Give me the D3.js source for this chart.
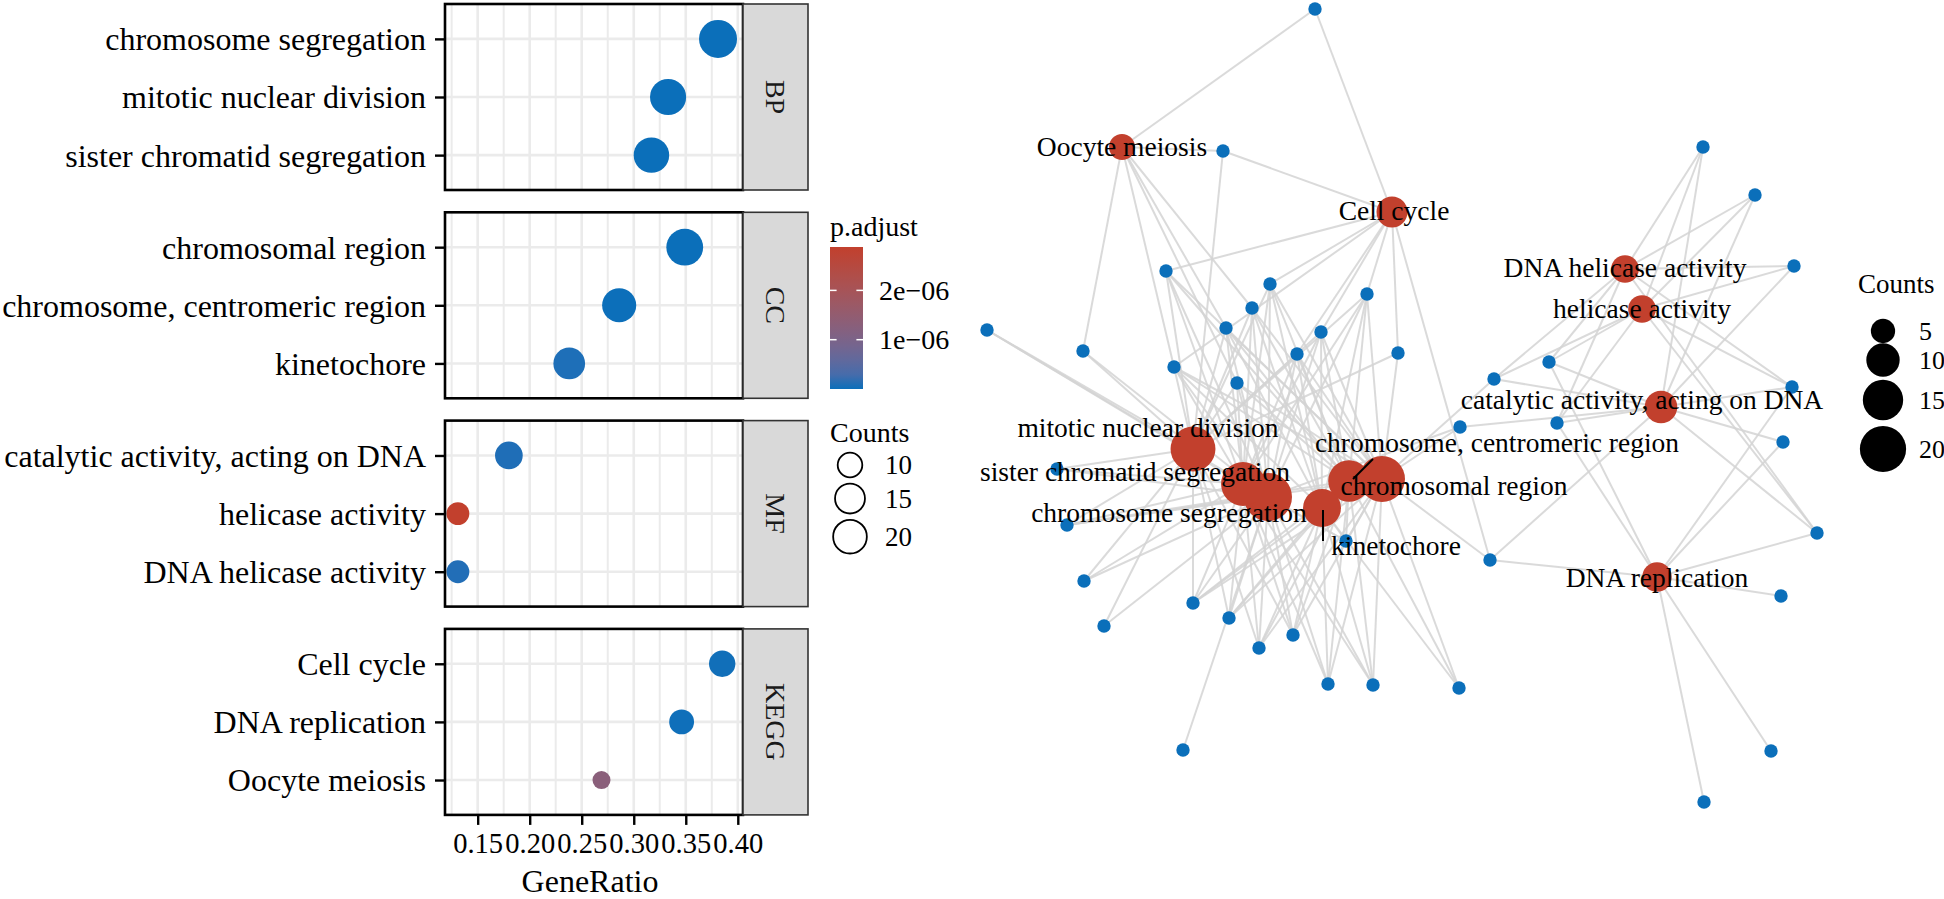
<!DOCTYPE html>
<html>
<head>
<meta charset="utf-8">
<script src="https://cdn.jsdelivr.net/npm/d3@7"></script>
<style>
  body { margin: 0; background: #fff; }
  svg { display: block; }
  text { font-family: "Liberation Serif", "Times New Roman", serif; }
</style>
</head>
<body>
<svg id="chart" width="1944" height="899" font-family="Liberation Serif, Times New Roman, serif"></svg>
<script>
// ---- enrichment terms (dot plot) ----
var termNames = ['chromosome segregation', 'mitotic nuclear division', 'sister chromatid segregation',
  'chromosomal region', 'chromosome, centromeric region', 'kinetochore',
  'catalytic activity, acting on DNA', 'helicase activity', 'DNA helicase activity',
  'Cell cycle', 'DNA replication', 'Oocyte meiosis']
var termGroup = ['BP', 'BP', 'BP', 'CC', 'CC', 'CC', 'MF', 'MF', 'MF', 'KEGG', 'KEGG', 'KEGG']
var geneRatio = [0.381, 0.333, 0.317, 0.349, 0.286, 0.238, 0.180, 0.131, 0.131, 0.385, 0.346, 0.269]
var termCount = [24, 21, 20, 22, 18, 15, 11, 8, 8, 10, 9, 7]
var pAdjust = [2.1e-12, 6.5e-10, 1.4e-10, 3.2e-11, 8.9e-10, 4.7e-8, 5.2e-8, 2.88e-6, 6.3e-8, 1.1e-8, 7.4e-9, 1.3e-6]

var facets = ['BP', 'CC', 'MF', 'KEGG']
var xTicks = [0.15, 0.20, 0.25, 0.30, 0.35, 0.40]
var xLimits = [0.1186, 0.405]
var pTicks = [1e-6, 2e-6]
var pTickLabels = ['1e\u221206', '2e\u221206']
var countBreaks = [10, 15, 20]
var netCountBreaks = [5, 10, 15, 20]

// ---- network (cnetplot) layout ----
// term nodes, same order as termNames
var termNetX = [1268, 1193, 1243, 1382, 1349, 1322, 1661, 1642, 1625, 1392, 1657, 1122]
var termNetY = [497, 449, 484, 479, 481, 508, 407, 309, 269, 212, 577, 147]
var labelDx = [-99, -45, -108, 72, 148, 74, -19, 0, 0, 2, 0, 0]
var labelDy = [25, -12, -3, 16, -29, 47, 2, 9, 8, 8, 10, 9]
// gene nodes
var geneNetX = [1315, 1223, 1166, 1270, 1367, 1252, 987, 1226, 1321, 1083, 1297, 1398, 1174, 1237,
  1460, 1703, 1755, 1794, 1549, 1494, 1792, 1557, 1057, 1067, 1346, 1084, 1193, 1104, 1229, 1293,
  1259, 1328, 1373, 1459, 1183, 1783, 1817, 1490, 1781, 1771, 1704]
var geneNetY = [9, 151, 271, 284, 294, 308, 330, 328, 332, 351, 354, 353, 367, 383,
  427, 147, 195, 266, 362, 379, 387, 423, 469, 525, 541, 581, 603, 626, 618, 635,
  648, 684, 685, 688, 750, 442, 533, 560, 596, 751, 802]
// terms each gene belongs to (indices into termNames)
var geneTerms = [
  [9, 11], [9, 11, 1], [9, 0, 1, 2, 3, 4], [9, 0, 1, 2, 3, 4, 5], [9, 0, 1, 2, 3, 4, 5],
  [11, 0, 1, 2, 3, 4, 5], [0, 1, 2], [11, 0, 1, 2, 3, 4, 5], [9, 0, 1, 2, 3, 4, 5], [11, 0, 1],
  [9, 0, 1, 2, 3, 4, 5], [9, 1, 3], [9, 11, 0, 1, 2, 3, 4, 5], [11, 0, 1, 2, 3, 4],
  [6, 3, 0], [8, 7, 6], [8, 7, 6], [8, 7, 6], [8, 7, 6, 10], [8, 7, 6, 3], [8, 7, 6, 10], [8, 7, 6, 10],
  [0, 1, 2], [0, 1, 2, 3, 4], [0, 2, 3, 4, 5], [0, 1, 2], [0, 1, 2, 3, 4, 5], [0, 1],
  [0, 1, 2, 3, 4, 5], [0, 1, 2, 3, 4, 5], [0, 1, 2, 3, 4, 5], [0, 2, 3, 4, 5], [0, 2, 3, 4, 5],
  [3, 4, 5], [0], [6, 10], [6, 10, 7, 8], [9, 10, 3, 6], [10], [10], [10]
]

var FONT = 'Liberation Serif, Times New Roman, serif'
var svg = d3.select('#chart')

var lowCol = '#0B6FBA'
var highCol = '#C2402D'
var colorScale = d3.scaleLinear()
  .domain(d3.extent(pAdjust))
  .range([lowCol, highCol])
  .interpolate(d3.interpolateLab)

// ================= dot plot =================
var panelLeft = 445, panelRight = 743, stripW = 65
var panelH = 186, panelStep = 208.3, panelTop0 = 4

var x = d3.scaleLinear().domain(xLimits).range([panelLeft, panelRight])
var sizeNorm = d3.scaleLinear().domain(d3.extent(termCount)).range([0, 1])
var diam = d3.scaleSqrt().domain([0, 1]).range([18, 38])
var dotR = function(n) { return diam(sizeNorm(n)) / 2 }

var minorTicks = d3.range(xTicks.length + 1).map(function(i) { return xTicks[0] - 0.025 + i * 0.05 })
  .filter(function(v) { return v > xLimits[0] && v < xLimits[1] })

facets.forEach(function(f, fi) {
  var top = panelTop0 + fi * panelStep
  var rows = termNames.filter(function(t, i) { return termGroup[i] === f })
  var y = d3.scalePoint().domain(rows).range([top, top + panelH]).padding(0.6)
  var g = svg.append('g')

  g.append('rect').attr('x', panelLeft).attr('y', top)
    .attr('width', panelRight - panelLeft).attr('height', panelH).attr('fill', '#fff')

  g.selectAll('.minor').data(minorTicks).enter().append('line')
    .attr('x1', function(d) { return x(d) }).attr('x2', function(d) { return x(d) })
    .attr('y1', top).attr('y2', top + panelH)
    .attr('stroke', '#EBEBEB').attr('stroke-width', 2)
  g.selectAll('.major').data(xTicks).enter().append('line')
    .attr('x1', function(d) { return x(d) }).attr('x2', function(d) { return x(d) })
    .attr('y1', top).attr('y2', top + panelH)
    .attr('stroke', '#EBEBEB').attr('stroke-width', 2.6)
  g.selectAll('.hgrid').data(rows).enter().append('line')
    .attr('x1', panelLeft).attr('x2', panelRight)
    .attr('y1', function(d) { return y(d) }).attr('y2', function(d) { return y(d) })
    .attr('stroke', '#EBEBEB').attr('stroke-width', 2.6)

  // dots
  termNames.forEach(function(t, i) {
    if (termGroup[i] !== f) return
    g.append('circle')
      .attr('cx', x(geneRatio[i])).attr('cy', y(t))
      .attr('r', dotR(termCount[i]))
      .attr('fill', colorScale(pAdjust[i]))
  })

  g.append('rect').attr('x', panelLeft).attr('y', top)
    .attr('width', panelRight - panelLeft).attr('height', panelH)
    .attr('fill', 'none').attr('stroke', '#000').attr('stroke-width', 2.6)

  // y axis
  var yAxis = g.append('g').attr('transform', 'translate(' + panelLeft + ',0)')
    .call(d3.axisLeft(y).tickSize(10).tickPadding(9))
  yAxis.attr('font-family', FONT)
  yAxis.select('.domain').remove()
  yAxis.selectAll('line').attr('stroke', '#000').attr('stroke-width', 2.4)
  yAxis.selectAll('text').attr('font-size', 32).attr('fill', '#000')
    .attr('font-family', FONT).attr('dy', '0.34em')

  // strip
  g.append('rect').attr('x', panelRight).attr('y', top)
    .attr('width', stripW).attr('height', panelH)
    .attr('fill', '#D9D9D9').attr('stroke', '#333').attr('stroke-width', 1.6)
  g.append('text')
    .attr('transform', 'translate(' + (panelRight + stripW / 2) + ',' + (top + panelH / 2) + ') rotate(90)')
    .attr('text-anchor', 'middle').attr('dy', '0.35em').attr('font-family', FONT)
    .attr('font-size', 28).attr('fill', '#1A1A1A').text(f)
})

// x axis under the last panel
var lastBottom = panelTop0 + 3 * panelStep + panelH
var xAxis = svg.append('g').attr('transform', 'translate(0,' + lastBottom + ')')
  .call(d3.axisBottom(x).tickValues(xTicks).tickFormat(d3.format('.2f')).tickSize(10).tickPadding(8))
xAxis.attr('font-family', FONT)
xAxis.select('.domain').remove()
xAxis.selectAll('line').attr('stroke', '#000').attr('stroke-width', 2.4)
xAxis.selectAll('text').attr('font-size', 28.5).attr('fill', '#000').attr('font-family', FONT)
svg.append('text').attr('x', 590).attr('y', 892).attr('text-anchor', 'middle')
  .attr('font-family', FONT).attr('font-size', 32).attr('fill', '#000').text('GeneRatio')

// p.adjust colour bar
var barX = 830, barW = 33, barTop = 247, barBot = 389
var pBar = d3.scaleLinear().domain(d3.extent(pAdjust)).range([barBot, barTop])
var grad = svg.append('defs').append('linearGradient').attr('id', 'pgrad')
  .attr('x1', 0).attr('y1', 1).attr('x2', 0).attr('y2', 0)
d3.range(0, 1.0001, 0.1).forEach(function(t) {
  grad.append('stop').attr('offset', t)
    .attr('stop-color', colorScale(pBar.domain()[0] + t * (pBar.domain()[1] - pBar.domain()[0])))
})
svg.append('text').attr('x', barX).attr('y', 236).attr('font-family', FONT).attr('font-size', 28).text('p.adjust')
svg.append('rect').attr('x', barX).attr('y', barTop).attr('width', barW)
  .attr('height', barBot - barTop).attr('fill', 'url(#pgrad)')
pTicks.forEach(function(v, i) {
  var yy = pBar(v)
  svg.append('line').attr('x1', barX).attr('x2', barX + 6.6).attr('y1', yy).attr('y2', yy)
    .attr('stroke', '#fff').attr('stroke-width', 1.5)
  svg.append('line').attr('x1', barX + barW - 6.6).attr('x2', barX + barW).attr('y1', yy).attr('y2', yy)
    .attr('stroke', '#fff').attr('stroke-width', 1.5)
  svg.append('text').attr('x', 879).attr('y', yy).attr('dy', '0.35em')
    .attr('font-family', FONT).attr('font-size', 28).text(pTickLabels[i])
})

// Counts legend (dot plot)
svg.append('text').attr('x', 830).attr('y', 442).attr('font-family', FONT).attr('font-size', 28).text('Counts')
var keyY = 465
countBreaks.forEach(function(c, i) {
  var r = dotR(c)
  if (i > 0) keyY += dotR(countBreaks[i - 1]) + r + 4.5
  svg.append('circle').attr('cx', 850).attr('cy', keyY).attr('r', r - 0.9)
    .attr('fill', 'none').attr('stroke', '#000').attr('stroke-width', 1.8)
  svg.append('text').attr('x', 885).attr('y', keyY).attr('dy', '0.35em')
    .attr('font-family', FONT).attr('font-size', 27).text(c)
})

// ================= network =================
var allX = termNetX.concat(geneNetX), allY = termNetY.concat(geneNetY)
var nx = d3.scaleLinear().domain(d3.extent(allX)).range(d3.extent(allX))
var ny = d3.scaleLinear().domain(d3.extent(allY)).range(d3.extent(allY))
var netR = d3.scaleSqrt().domain([0, d3.max(termCount)]).range([0, 24])

var links = []
geneTerms.forEach(function(ts, gi) {
  ts.forEach(function(ti) { links.push({ g: gi, t: ti }) })
})

var net = svg.append('g')
net.selectAll('.edge').data(links).enter().append('line')
  .attr('x1', function(d) { return nx(geneNetX[d.g]) }).attr('y1', function(d) { return ny(geneNetY[d.g]) })
  .attr('x2', function(d) { return nx(termNetX[d.t]) }).attr('y2', function(d) { return ny(termNetY[d.t]) })
  .attr('stroke', '#D4D4D4').attr('stroke-width', 2).attr('stroke-opacity', 0.85)

net.selectAll('.gene').data(geneNetX).enter().append('circle')
  .attr('cx', function(d) { return nx(d) }).attr('cy', function(d, i) { return ny(geneNetY[i]) })
  .attr('r', 6.7).attr('fill', lowCol)

net.selectAll('.term').data(termNames).enter().append('circle')
  .attr('cx', function(d, i) { return nx(termNetX[i]) }).attr('cy', function(d, i) { return ny(termNetY[i]) })
  .attr('r', function(d, i) { return netR(termCount[i]) })
  .attr('fill', highCol)

// leader segments for the two repelled labels
var leaders = { 5: [1, 2, 1, 33], 4: [4, -2, 24, -22] }
Object.keys(leaders).forEach(function(k) {
  var s = leaders[k]
  net.append('line')
    .attr('x1', nx(termNetX[k]) + s[0]).attr('y1', ny(termNetY[k]) + s[1])
    .attr('x2', nx(termNetX[k]) + s[2]).attr('y2', ny(termNetY[k]) + s[3])
    .attr('stroke', '#000').attr('stroke-width', 2)
})

net.selectAll('.lab').data(termNames).enter().append('text')
  .attr('x', function(d, i) { return nx(termNetX[i]) + labelDx[i] })
  .attr('y', function(d, i) { return ny(termNetY[i]) + labelDy[i] })
  .attr('text-anchor', 'middle').attr('font-family', FONT).attr('font-size', 27.5).attr('fill', '#000')
  .text(function(d) { return d })

// Counts legend (network)
svg.append('text').attr('x', 1858).attr('y', 293).attr('font-family', FONT).attr('font-size', 27).text('Counts')
var netKeyY = [331, 360, 400, 449]
netCountBreaks.forEach(function(c, i) {
  svg.append('circle').attr('cx', 1883).attr('cy', netKeyY[i]).attr('r', netR(c) + 1.2).attr('fill', '#000')
  svg.append('text').attr('x', 1919).attr('y', netKeyY[i]).attr('dy', '0.35em')
    .attr('font-family', FONT).attr('font-size', 26).text(c)
})
</script>
</body>
</html>
